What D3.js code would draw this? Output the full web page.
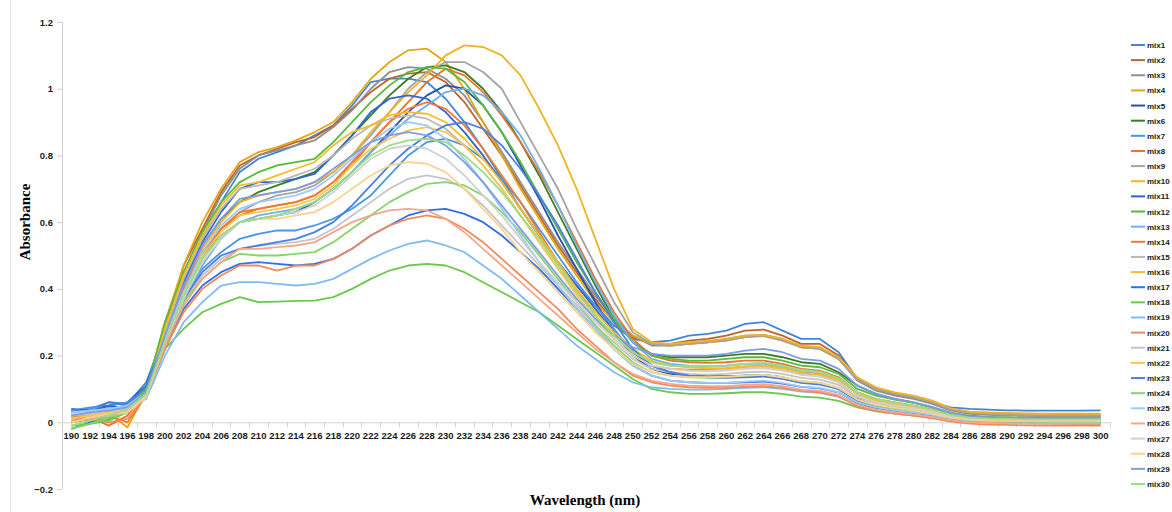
<!DOCTYPE html>
<html><head><meta charset="utf-8">
<script src="https://cdn.jsdelivr.net/npm/d3@7"></script>
<style>body{margin:0;background:#fff}svg{display:block}</style>
</head><body><svg id="c" width="1172" height="512"></svg>
<script>
const wavelengths = [190,192,194,196,198,200,202,204,206,208,210,212,214,216,218,220,222,224,226,228,230,232,234,236,238,240,242,244,246,248,250,252,254,256,258,260,262,264,266,268,270,272,274,276,278,280,282,284,286,288,290,292,294,296,298,300];
const yTicks = [-0.2,0,0.2,0.4,0.6,0.8,1,1.2];
const seriesNames = ["mix1","mix2","mix3","mix4","mix5","mix6","mix7","mix8","mix9","mix10","mix11","mix12","mix13","mix14","mix15","mix16","mix17","mix18","mix19","mix20","mix21","mix22","mix23","mix24","mix25","mix26","mix27","mix28","mix29","mix30"];
const seriesColors = ["#3f86d6","#c0622a","#8f8f8f","#e3a614","#2553b0","#3c7d24","#4796e8","#e9732c","#a3a3a3","#f0b323","#2e67d3","#55bb3a","#6db0f0","#f17a30","#b8b8b8","#f5bd2c","#2f70e2","#6cc84a","#80bcf2","#f28a5c","#c4c4c4","#f8c84c","#4a80e2","#86d46a","#9fcaf4","#f5a68a","#d0d0d0","#fad28e","#7d9ce8","#9bdd82"];

const mix1 = [0.035,0.04,0.06,0.055,0.12, 0.27,0.42,0.55,0.66, 0.75,0.79,0.81,0.83,0.86,0.89,0.95,1.02, 1.03,1.03,1.02,0.97,0.9,0.82,0.73, 0.64,0.56,0.48,0.41,0.35,0.29,0.25, 0.24,0.245,0.26,0.265,0.275,0.295,0.30,0.275,0.25,0.25,0.21, 0.13,0.1,0.085,0.075,0.06,0.045,0.04,0.038,0.036,0.035,0.035,0.035,0.035,0.036];
const mix2 = [0.0,0.02,0.03,0.04,0.1, 0.28,0.47,0.58,0.69, 0.77,0.8,0.82,0.84,0.855,0.89,0.94,0.99, 1.03,1.045,1.05,1.02,0.96,0.88,0.8, 0.71,0.62,0.53,0.45,0.37,0.3,0.255, 0.235,0.235,0.245,0.25,0.26,0.275,0.278,0.26,0.235,0.235,0.2, 0.13,0.1,0.085,0.075,0.06,0.04,0.03,0.025,0.022,0.02,0.02,0.02,0.02,0.02];
const mix3 = [0.01,0.025,0.035,0.04,0.1, 0.27,0.45,0.57,0.68, 0.76,0.8,0.815,0.83,0.845,0.885,0.935,1.0, 1.05,1.065,1.06,1.03,0.98,0.9,0.81, 0.72,0.63,0.54,0.46,0.38,0.31,0.26, 0.23,0.23,0.235,0.24,0.25,0.26,0.262,0.25,0.225,0.225,0.19, 0.125,0.095,0.08,0.07,0.055,0.035,0.025,0.022,0.02,0.02,0.018,0.018,0.018,0.018];
const mix4 = [0.005,0.015,0.025,-0.015,0.09, 0.3,0.47,0.6,0.7, 0.78,0.81,0.825,0.845,0.87,0.9,0.96,1.03, 1.08,1.115,1.12,1.08,1.0,0.9,0.8, 0.7,0.61,0.52,0.44,0.36,0.3,0.26, 0.235,0.23,0.235,0.24,0.245,0.255,0.258,0.245,0.225,0.22,0.19, 0.13,0.1,0.088,0.078,0.062,0.04,0.03,0.028,0.026,0.025,0.025,0.024,0.024,0.024];
const mix5 = [0.03,0.03,0.05,0.06,0.11, 0.26,0.4,0.5,0.56, 0.6,0.61,0.62,0.63,0.66,0.7,0.75,0.81, 0.87,0.93,0.98,1.01,1.0,0.95,0.87, 0.77,0.67,0.56,0.46,0.36,0.27,0.2, 0.16,0.145,0.14,0.138,0.138,0.14,0.14,0.132,0.12,0.115,0.1, 0.07,0.05,0.04,0.032,0.022,0.012,0.006,0.004,0.003,0.003,0.002,0.002,0.002,0.002];
const mix6 = [0.0,0.01,0.03,0.045,0.11, 0.27,0.41,0.53,0.61, 0.66,0.69,0.71,0.73,0.75,0.8,0.86,0.92, 0.98,1.03,1.065,1.07,1.05,1.0,0.93, 0.84,0.74,0.63,0.52,0.41,0.31,0.24, 0.205,0.195,0.195,0.195,0.2,0.205,0.205,0.195,0.18,0.175,0.15, 0.11,0.085,0.07,0.06,0.045,0.025,0.018,0.015,0.014,0.013,0.012,0.012,0.012,0.012];
const mix7 = [0.035,0.045,0.05,0.06,0.1, 0.24,0.37,0.46,0.51, 0.55,0.565,0.575,0.575,0.59,0.61,0.64,0.68, 0.74,0.8,0.84,0.85,0.83,0.79,0.73, 0.66,0.58,0.5,0.42,0.35,0.28,0.21, 0.17,0.15,0.14,0.135,0.135,0.138,0.14,0.132,0.12,0.115,0.1, 0.065,0.048,0.038,0.03,0.022,0.012,0.006,0.004,0.003,0.002,0.002,0.002,0.002,0.002];
const mix8 = [0.02,0.015,-0.01,0.02,0.09, 0.25,0.4,0.5,0.58, 0.62,0.64,0.65,0.66,0.68,0.72,0.78,0.84, 0.9,0.96,1.02,1.06,1.04,0.99,0.92, 0.84,0.75,0.65,0.54,0.43,0.33,0.25, 0.2,0.185,0.18,0.178,0.18,0.185,0.185,0.175,0.16,0.155,0.135, 0.09,0.07,0.06,0.05,0.038,0.022,0.012,0.008,0.006,0.005,0.004,0.004,0.004,0.004];
const mix9 = [0.03,0.025,0.045,0.04,0.1, 0.25,0.39,0.5,0.58, 0.63,0.66,0.68,0.69,0.71,0.75,0.8,0.86, 0.93,1.0,1.05,1.08,1.08,1.05,1.0, 0.9,0.8,0.7,0.58,0.47,0.36,0.27, 0.235,0.23,0.235,0.24,0.245,0.255,0.26,0.245,0.225,0.22,0.19, 0.128,0.1,0.085,0.075,0.06,0.038,0.028,0.025,0.022,0.021,0.02,0.02,0.02,0.02];
const mix10 = [0.02,0.03,0.04,0.05,0.1, 0.26,0.4,0.52,0.6, 0.66,0.68,0.69,0.7,0.72,0.75,0.8,0.87, 0.93,0.99,1.04,1.1,1.13,1.125,1.1, 1.04,0.94,0.83,0.7,0.55,0.4,0.28, 0.24,0.235,0.24,0.245,0.25,0.26,0.262,0.25,0.23,0.225,0.195, 0.135,0.105,0.09,0.08,0.065,0.042,0.032,0.03,0.028,0.027,0.026,0.026,0.026,0.026];
const mix11 = [0.04,0.035,0.05,0.04,0.1, 0.27,0.42,0.54,0.63, 0.7,0.72,0.72,0.73,0.745,0.8,0.86,0.93, 0.97,0.98,0.97,0.93,0.87,0.8,0.72, 0.64,0.56,0.48,0.41,0.34,0.27,0.21, 0.17,0.15,0.14,0.135,0.135,0.14,0.142,0.135,0.12,0.118,0.1, 0.065,0.048,0.04,0.032,0.024,0.014,0.008,0.006,0.005,0.004,0.004,0.004,0.004,0.004];
const mix12 = [0.02,0.0,0.01,0.04,0.1, 0.3,0.45,0.57,0.66, 0.72,0.75,0.77,0.78,0.79,0.84,0.9,0.96, 1.01,1.05,1.065,1.06,1.02,0.95,0.87, 0.78,0.68,0.58,0.48,0.39,0.31,0.24, 0.2,0.19,0.185,0.185,0.19,0.195,0.195,0.185,0.17,0.165,0.145, 0.1,0.08,0.068,0.058,0.045,0.028,0.02,0.016,0.014,0.013,0.012,0.012,0.012,0.012];
const mix13 = [0.02,0.03,0.04,0.05,0.08, 0.22,0.36,0.47,0.55, 0.6,0.62,0.63,0.64,0.66,0.7,0.75,0.81, 0.86,0.91,0.95,0.99,1.0,0.98,0.93, 0.86,0.76,0.65,0.53,0.42,0.32,0.24, 0.19,0.175,0.17,0.168,0.17,0.175,0.175,0.165,0.15,0.145,0.125, 0.085,0.065,0.055,0.046,0.035,0.02,0.012,0.01,0.008,0.007,0.006,0.006,0.006,0.006];
const mix14 = [0.0,0.02,0.02,0.0,0.08, 0.25,0.4,0.51,0.58, 0.63,0.64,0.65,0.66,0.68,0.72,0.77,0.84, 0.9,0.94,0.96,0.94,0.89,0.82,0.74, 0.66,0.57,0.48,0.4,0.32,0.25,0.2, 0.17,0.16,0.158,0.158,0.16,0.165,0.167,0.158,0.145,0.14,0.12, 0.08,0.06,0.05,0.042,0.03,0.015,0.006,0.003,0.0,-0.002,-0.003,-0.004,-0.005,-0.005];
const mix15 = [0.015,0.02,0.03,0.035,0.09, 0.27,0.43,0.55,0.64, 0.7,0.71,0.72,0.74,0.76,0.8,0.85,0.89, 0.91,0.92,0.91,0.88,0.83,0.77,0.7, 0.62,0.54,0.46,0.39,0.32,0.26,0.21, 0.18,0.17,0.168,0.168,0.17,0.175,0.178,0.168,0.155,0.15,0.13, 0.09,0.07,0.058,0.05,0.038,0.022,0.014,0.012,0.01,0.01,0.01,0.01,0.01,0.01];
const mix16 = [0.02,0.01,0.03,0.035,0.085, 0.28,0.44,0.56,0.65, 0.71,0.72,0.74,0.76,0.78,0.83,0.87,0.89, 0.92,0.93,0.925,0.9,0.85,0.79,0.72, 0.64,0.56,0.48,0.4,0.33,0.27,0.22, 0.185,0.17,0.165,0.162,0.163,0.168,0.17,0.162,0.148,0.143,0.125, 0.085,0.065,0.055,0.046,0.035,0.02,0.014,0.012,0.011,0.011,0.01,0.01,0.01,0.01];
const mix17 = [-0.02,0.0,0.02,0.03,0.09, 0.22,0.34,0.41,0.45, 0.475,0.48,0.475,0.47,0.475,0.49,0.52,0.56, 0.59,0.62,0.635,0.64,0.625,0.6,0.56, 0.51,0.46,0.4,0.34,0.28,0.22,0.17, 0.14,0.125,0.12,0.118,0.118,0.12,0.122,0.116,0.106,0.102,0.09, 0.058,0.042,0.033,0.026,0.018,0.008,0.002,0.0,-0.002,-0.003,-0.003,-0.003,-0.003,-0.003];
const mix18 = [-0.01,-0.005,0.005,0.03,0.08, 0.22,0.28,0.33,0.355, 0.375,0.36,0.362,0.364,0.365,0.375,0.4,0.43, 0.455,0.47,0.475,0.47,0.45,0.42,0.39, 0.36,0.33,0.29,0.25,0.21,0.17,0.13, 0.1,0.09,0.085,0.085,0.087,0.09,0.09,0.085,0.077,0.074,0.064, 0.045,0.033,0.026,0.02,0.014,0.006,0.002,0.0,-0.001,-0.001,-0.001,-0.001,-0.001,-0.001];
const mix19 = [0.03,0.035,0.04,0.045,0.07, 0.2,0.3,0.36,0.41, 0.42,0.42,0.415,0.41,0.415,0.43,0.46,0.49, 0.515,0.535,0.545,0.53,0.51,0.47,0.43, 0.38,0.33,0.28,0.23,0.19,0.15,0.12, 0.105,0.1,0.098,0.098,0.1,0.103,0.105,0.1,0.092,0.088,0.076, 0.05,0.038,0.03,0.024,0.017,0.008,0.003,0.002,0.001,0.001,0.0,0.0,0.0,0.0];
const mix20 = [0.02,0.01,0.0,0.01,0.08, 0.22,0.33,0.4,0.44, 0.47,0.47,0.455,0.47,0.47,0.49,0.52,0.56, 0.59,0.61,0.62,0.61,0.58,0.54,0.49, 0.44,0.39,0.34,0.28,0.23,0.18,0.14, 0.12,0.11,0.105,0.103,0.103,0.107,0.108,0.103,0.094,0.09,0.078, 0.048,0.034,0.026,0.02,0.012,0.002,-0.004,-0.007,-0.008,-0.009,-0.01,-0.01,-0.01,-0.01];
const mix21 = [0.02,0.025,0.03,0.035,0.08, 0.24,0.36,0.44,0.49, 0.52,0.53,0.535,0.54,0.55,0.58,0.62,0.66, 0.7,0.73,0.74,0.73,0.7,0.65,0.59, 0.53,0.47,0.41,0.35,0.29,0.24,0.19, 0.16,0.15,0.145,0.143,0.145,0.15,0.152,0.145,0.133,0.128,0.112, 0.075,0.057,0.047,0.04,0.03,0.017,0.01,0.008,0.007,0.007,0.006,0.006,0.006,0.006];
const mix22 = [0.01,0.02,0.03,0.04,0.085, 0.25,0.39,0.5,0.57, 0.62,0.63,0.64,0.65,0.67,0.71,0.77,0.82, 0.85,0.875,0.885,0.87,0.83,0.77,0.7, 0.62,0.54,0.46,0.38,0.31,0.25,0.2, 0.17,0.16,0.155,0.155,0.158,0.162,0.165,0.157,0.143,0.138,0.12, 0.08,0.062,0.052,0.044,0.033,0.018,0.012,0.01,0.009,0.009,0.008,0.008,0.008,0.008];
const mix23 = [0.04,0.03,0.06,0.05,0.11, 0.25,0.37,0.45,0.5, 0.52,0.53,0.54,0.55,0.57,0.6,0.65,0.71, 0.77,0.82,0.86,0.89,0.9,0.88,0.83, 0.76,0.68,0.59,0.49,0.39,0.3,0.22, 0.17,0.15,0.14,0.135,0.133,0.135,0.137,0.13,0.118,0.113,0.1, 0.065,0.048,0.038,0.03,0.022,0.012,0.006,0.004,0.003,0.002,0.002,0.002,0.002,0.002];
const mix24 = [-0.02,-0.005,0.015,0.03,0.085, 0.25,0.36,0.43,0.48, 0.505,0.5,0.5,0.505,0.51,0.54,0.58,0.62, 0.66,0.69,0.715,0.72,0.71,0.68,0.63, 0.57,0.5,0.43,0.36,0.29,0.23,0.18, 0.15,0.14,0.135,0.133,0.135,0.14,0.142,0.135,0.123,0.118,0.103, 0.068,0.05,0.04,0.033,0.024,0.012,0.005,0.003,0.002,0.001,0.0,0.0,0.0,0.0];
const mix25 = [0.03,0.035,0.04,0.05,0.09, 0.25,0.39,0.51,0.59, 0.64,0.66,0.67,0.68,0.7,0.74,0.79,0.84, 0.88,0.9,0.89,0.85,0.79,0.72,0.64, 0.56,0.48,0.41,0.34,0.28,0.22,0.17, 0.14,0.125,0.12,0.118,0.118,0.122,0.125,0.118,0.107,0.103,0.09, 0.06,0.045,0.036,0.03,0.022,0.012,0.006,0.004,0.003,0.003,0.002,0.002,0.002,0.002];
const mix26 = [0.0,0.01,0.02,0.03,0.08, 0.23,0.35,0.43,0.48, 0.52,0.52,0.525,0.53,0.54,0.57,0.6,0.62, 0.635,0.64,0.635,0.61,0.57,0.52,0.47, 0.42,0.37,0.32,0.27,0.22,0.18,0.145, 0.125,0.115,0.11,0.108,0.108,0.112,0.114,0.108,0.098,0.094,0.082, 0.052,0.038,0.03,0.024,0.016,0.006,0.0,-0.002,-0.003,-0.004,-0.004,-0.004,-0.004,-0.004];
const mix27 = [0.025,0.03,0.035,0.04,0.08, 0.24,0.37,0.48,0.55, 0.6,0.61,0.62,0.63,0.65,0.69,0.74,0.79, 0.82,0.83,0.82,0.79,0.74,0.68,0.62, 0.55,0.48,0.42,0.36,0.3,0.25,0.2, 0.17,0.16,0.155,0.153,0.155,0.16,0.162,0.155,0.142,0.137,0.12, 0.08,0.06,0.05,0.042,0.032,0.018,0.011,0.009,0.008,0.008,0.008,0.008,0.008,0.008];
const mix28 = [0.0,0.015,0.025,0.03,0.075, 0.24,0.38,0.49,0.56, 0.6,0.61,0.61,0.62,0.63,0.66,0.7,0.74, 0.77,0.78,0.775,0.75,0.7,0.64,0.58, 0.51,0.45,0.39,0.33,0.27,0.22,0.175, 0.15,0.14,0.135,0.135,0.137,0.14,0.142,0.135,0.123,0.118,0.103, 0.068,0.052,0.043,0.036,0.026,0.014,0.008,0.006,0.005,0.005,0.004,0.004,0.004,0.004];
const mix29 = [0.02,0.03,0.035,0.045,0.09, 0.26,0.41,0.53,0.61, 0.67,0.68,0.69,0.7,0.72,0.76,0.8,0.84, 0.86,0.87,0.86,0.83,0.78,0.72,0.65, 0.58,0.51,0.44,0.37,0.31,0.26,0.225, 0.205,0.2,0.2,0.2,0.205,0.215,0.22,0.21,0.19,0.185,0.16, 0.11,0.085,0.07,0.06,0.046,0.028,0.018,0.015,0.013,0.012,0.012,0.012,0.012,0.012];
const mix30 = [-0.01,0.005,0.02,0.04,0.085, 0.24,0.38,0.49,0.56, 0.6,0.61,0.62,0.64,0.66,0.7,0.75,0.8, 0.83,0.845,0.85,0.84,0.8,0.75,0.69, 0.62,0.55,0.47,0.39,0.32,0.26,0.21, 0.18,0.17,0.168,0.168,0.17,0.175,0.178,0.17,0.157,0.152,0.132, 0.09,0.07,0.058,0.05,0.038,0.022,0.014,0.011,0.01,0.009,0.009,0.009,0.009,0.009];

const seriesValues = [mix1,mix2,mix3,mix4,mix5,mix6,mix7,mix8,mix9,mix10,mix11,mix12,mix13,mix14,mix15,mix16,mix17,mix18,mix19,mix20,mix21,mix22,mix23,mix24,mix25,mix26,mix27,mix28,mix29,mix30];

const svg = d3.select("#c");
svg.append("rect").attr("width",1172).attr("height",512).attr("fill","#fff");
svg.append("line").attr("x1",10.5).attr("x2",10.5).attr("y1",0).attr("y2",512).attr("stroke","#e4e4e4");

const x = d3.scaleBand().domain(wavelengths).range([62,1110]).padding(0);
const y = d3.scaleLinear().domain([-0.2,1.2]).range([489,22]);
const tickFont = "'Liberation Sans', Arial, sans-serif";

// Y axis
const ya = svg.append("g").attr("transform","translate(62,0)")
  .call(d3.axisLeft(y).tickValues(yTicks).tickSize(5).tickPadding(4).tickFormat(d=>d3.format("")(+d.toFixed(1))));
ya.select(".domain").attr("stroke","#d0d0d0").attr("d","M0.5,22V489");
ya.selectAll(".tick line").attr("stroke","#d0d0d0");
ya.selectAll("text").attr("font-family",tickFont).attr("font-weight","bold").attr("font-size","9.5px").attr("fill","#1a1a1a");

// X axis at y=0
const xa = svg.append("g").attr("transform",`translate(0,${y(0)})`)
  .call(d3.axisBottom(x).tickSize(0).tickPadding(10));
xa.select(".domain").attr("stroke","#d0d0d0");
xa.selectAll("text").attr("font-family",tickFont).attr("font-weight","bold").attr("font-size","9.5px").attr("fill","#1a1a1a");
xa.selectAll(".bound").data(wavelengths).enter().append("line")
  .attr("x1",d=>Math.round(x(d))+0.5).attr("x2",d=>Math.round(x(d))+0.5).attr("y1",0).attr("y2",5).attr("stroke","#d0d0d0");
xa.append("line").attr("x1",1110.5).attr("x2",1110.5).attr("y1",0).attr("y2",5).attr("stroke","#d0d0d0");

// Lines
const line = d3.line().x((d,i)=>x(wavelengths[i])+x.bandwidth()/2).y(d=>y(d));
svg.append("g").selectAll("path").data(seriesValues).enter().append("path")
  .attr("d",line).attr("fill","none").attr("stroke",(d,i)=>seriesColors[i])
  .attr("stroke-width",1.8).attr("stroke-linejoin","round");

// Titles
svg.append("text").attr("transform","translate(30,222) rotate(-90)").attr("text-anchor","middle")
  .attr("font-family","'Liberation Serif','Times New Roman',serif").attr("font-weight","bold").attr("font-size","15px").text("Absorbance");
svg.append("text").attr("x",585).attr("y",505).attr("text-anchor","middle")
  .attr("font-family","'Liberation Serif','Times New Roman',serif").attr("font-weight","bold").attr("font-size","15px").text("Wavelength (nm)");

// Legend
const lg = svg.append("g");
const ly = d3.scaleLinear().domain([0,29]).range([45,484]);
seriesNames.forEach((n,i)=>{
  lg.append("line").attr("x1",1131).attr("x2",1145).attr("y1",ly(i)).attr("y2",ly(i))
    .attr("stroke",seriesColors[i]).attr("stroke-width",2);
  lg.append("text").attr("x",1147).attr("y",ly(i)+3).attr("font-family",tickFont)
    .attr("font-weight","bold").attr("font-size","8px").attr("fill","#1a1a1a").text(n);
});
</script></body></html>
